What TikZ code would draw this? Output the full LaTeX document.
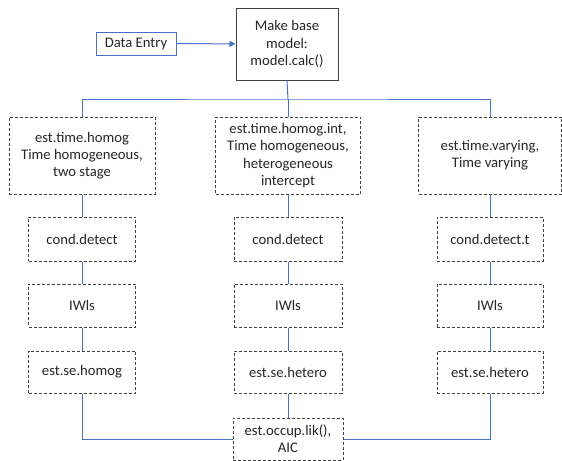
\documentclass[tikz,border=0pt]{standalone}
\usepackage{fontspec}
\setmainfont{Carlito}
\usetikzlibrary{arrows.meta}
\newlength\px
\setlength\px{0.75pt}
\definecolor{connblue}{HTML}{4472C4}
\definecolor{boxline}{HTML}{404040}
\begin{document}
\begin{tikzpicture}[x=0.75pt,y=-0.75pt,
  txt/.style={align=center,font=\fontsize{11}{13}\selectfont,text=black!85,inner sep=0pt},
  dbox/.style={txt,draw=boxline,line width=0.75pt,dash pattern=on 2.25pt off 1.5pt},
  sbox/.style={txt,draw=boxline,line width=0.75pt},
  ebox/.style={txt,draw=connblue,line width=0.75pt},
  conn/.style={draw=connblue,line width=0.75pt},
  arr/.style={conn,-{Triangle[length=4.5pt,width=4.5pt]}}]
\useasboundingbox (0,0) rectangle (562,461);
% top
\node[ebox,minimum width=80\px,minimum height=23\px] (entry) at (136,43.5) {Data Entry};
\node[sbox,minimum width=102\px,minimum height=72\px] (base) at (287,44) {Make base\\model:\\model.calc()};
% column 1
\node[dbox,minimum width=146\px,minimum height=77\px] (t1) at (82,155.5) {est.time.homog\\Time homogeneous,\\two stage};
\node[dbox,minimum width=107\px,minimum height=44\px] (c1) at (82,239) {cond.detect};
\node[dbox,minimum width=107\px,minimum height=43\px] (i1) at (82,305.5) {IWls};
\node[dbox,minimum width=107\px,minimum height=42\px] (s1) at (82,372) {est.se.homog};
% column 2
\node[dbox,minimum width=145\px,minimum height=77\px] (t2) at (288,155.5) {est.time.homog.int,\\Time homogeneous,\\heterogeneous\\intercept};
\node[dbox,minimum width=108\px,minimum height=44\px] (c2) at (288,239) {cond.detect};
\node[dbox,minimum width=108\px,minimum height=43\px] (i2) at (288,305.5) {IWls};
\node[dbox,minimum width=108\px,minimum height=42\px] (s2) at (288,372) {est.se.hetero};
% column 3
\node[dbox,minimum width=143\px,minimum height=77\px] (t3) at (490,155.5) {est.time.varying,\\Time varying};
\node[dbox,minimum width=106\px,minimum height=44\px] (c3) at (490,239) {cond.detect.t};
\node[dbox,minimum width=106\px,minimum height=43\px] (i3) at (490,305.5) {IWls};
\node[dbox,minimum width=106\px,minimum height=42\px] (s3) at (490,372) {est.se.hetero};
% bottom
\node[dbox,minimum width=110\px,minimum height=42\px] (occ) at (288,439) {est.occup.lik(),\\AIC};
% connectors
\draw[arr] (entry) -- (base);
\coordinate (hub) at (288,99);
\draw[conn] (base.south) -- (hub);
\draw[conn] (t1.north) |- (hub) -| (t3.north);
\draw[conn] (hub) -- (t2.north);
\draw[conn] (t1) -- (c1); \draw[conn] (c1) -- (i1); \draw[conn] (i1) -- (s1);
\draw[conn] (t2) -- (c2); \draw[conn] (c2) -- (i2); \draw[conn] (i2) -- (s2);
\draw[conn] (t3) -- (c3); \draw[conn] (c3) -- (i3); \draw[conn] (i3) -- (s3);
\draw[conn] (s2) -- (occ);
\draw[conn] (s1.south) |- (occ.west);
\draw[conn] (s3.south) |- (occ.east);
\end{tikzpicture}
\end{document}
